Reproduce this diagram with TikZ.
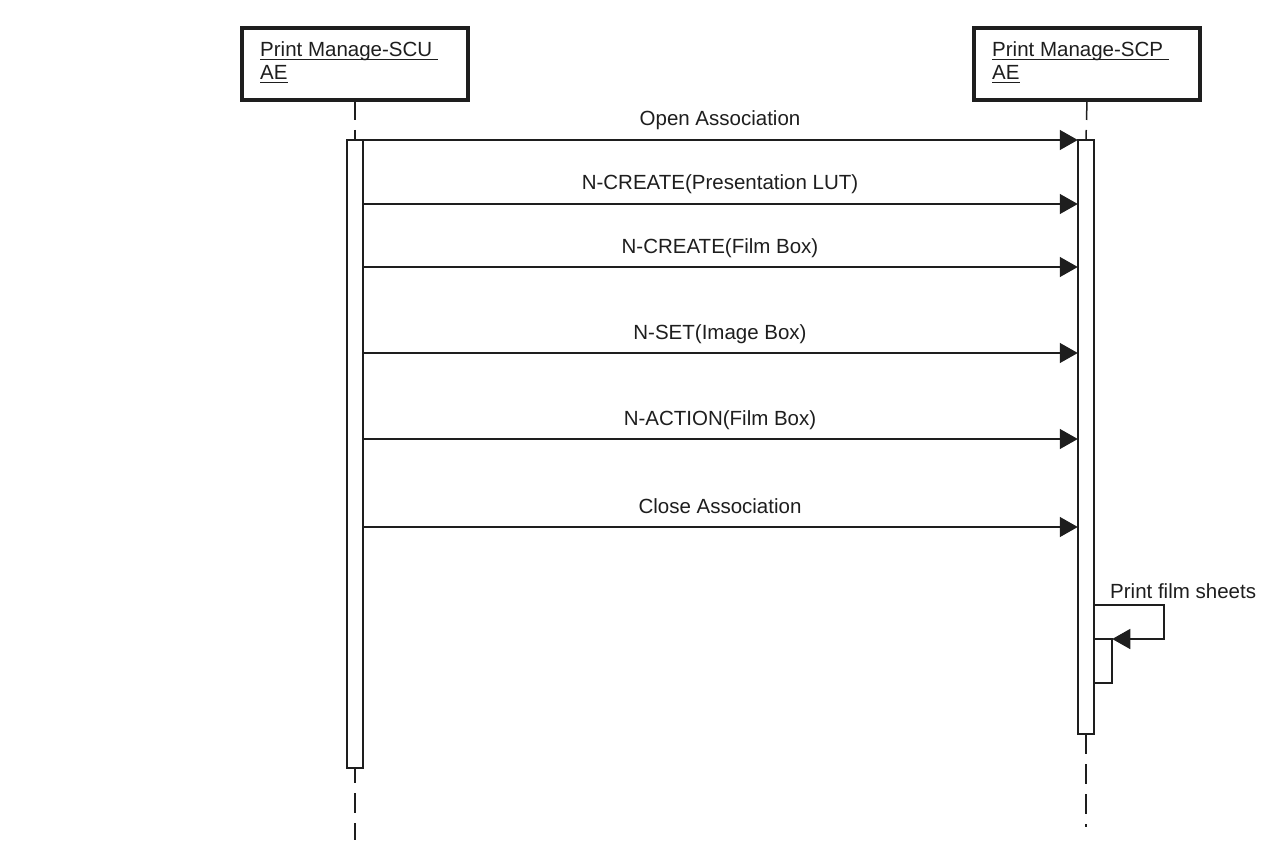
\documentclass[tikz,border=0pt]{standalone}
\usepackage{fontspec}
\setmainfont{Liberation Sans}
\usetikzlibrary{arrows.meta}
\definecolor{ink}{HTML}{1E1E1E}
\newcommand\myul[1]{\setbox0\hbox{#1}\rlap{\rule[-3.5pt]{\wd0}{1.2pt}}\box0}
\begin{document}
\begin{tikzpicture}[x=1pt,y=-1pt,
  every node/.style={text=ink},
  font=\fontsize{20.5}{24}\selectfont,
  actor/.style={draw=ink, line width=3.4pt, minimum width=226pt, minimum height=72pt, anchor=north west, inner sep=0, outer sep=0},
  actortext/.style={anchor=base west, inner sep=0},
  bar/.style={draw=ink, line width=1.6pt, fill=white, minimum width=16.5pt, anchor=north, inner sep=0, outer sep=0},
  msg/.style={draw=ink, line width=1.5pt, -{Triangle[length=18pt,width=20pt]}},
  lbl/.style={anchor=base, inner sep=0},
  lifeline/.style={draw=ink, line width=1.5pt, dash pattern=on 20pt off 10pt},
  ]
\useasboundingbox (0,0) rectangle (1282,845);
\fill[white] (0,0) rectangle (1282,845);

% actors
\node[actor] (scu) at (242,28) {};
\node[actortext] (scut1) at (260,57) {\myul{Print Manage-SCU\ }};
\node[actortext] (scut2) at (260,80) {\myul{AE}};
\node[actor] (scp) at (974,28) {};
\node[actortext] (scpt1) at (992,57) {\myul{Print Manage-SCP\ }};
\node[actortext] (scpt2) at (992,80) {\myul{AE}};

% lifeline ends
\coordinate (scuend) at (355,840);
\coordinate (scpend) at (1086,827);

% activation bars
\node[bar, minimum height=628pt] (scubar) at (355,140) {};
\node[bar, minimum height=594pt] (scpbar) at (1086,140) {};

% lifelines
\draw[lifeline] (scu.south) -- (scubar.north);
\draw[lifeline] (scp.south) -- (scpbar.north);
\draw[lifeline, dash phase=5pt] (scubar.south) -- (scuend);
\draw[lifeline] (scpbar.south) -- (scpend);

% bars on top of lifelines
\node[bar, minimum height=628pt] at (355,140) {};
\node[bar, minimum height=594pt] at (1086,140) {};

% messages
\coordinate (m1) at (0,140);
\coordinate (m2) at (0,204);
\coordinate (m3) at (0,267);
\coordinate (m4) at (0,353);
\coordinate (m5) at (0,439);
\coordinate (m6) at (0,527);
\draw[msg] (scubar.east |- m1) -- (scpbar.west |- m1);
\draw[msg] (scubar.east |- m2) -- (scpbar.west |- m2);
\draw[msg] (scubar.east |- m3) -- (scpbar.west |- m3);
\draw[msg] (scubar.east |- m4) -- (scpbar.west |- m4);
\draw[msg] (scubar.east |- m5) -- (scpbar.west |- m5);
\draw[msg] (scubar.east |- m6) -- (scpbar.west |- m6);

\node[lbl] (l1) at (720,126) {Open Association};
\node[lbl] (l2) at (720,190) {N-CREATE(Presentation LUT)};
\node[lbl] (l3) at (720,253) {N-CREATE(Film Box)};
\node[lbl] (l4) at (720,339) {N-SET(Image Box)};
\node[lbl] (l5) at (720,425) {N-ACTION(Film Box)};
\node[lbl] (l6) at (720,513) {Close Association};

% self message
\node[draw=ink, line width=1.6pt, fill=white, minimum width=18pt, minimum height=44pt, anchor=north west, inner sep=0, outer sep=0] (selfbar) at (scpbar.east |- 0,639) {};
\coordinate (s1) at (1164,605);
\coordinate (s2) at (1164,639);
\draw[msg] (scpbar.east |- s1) -- (s1) -- (s2) -- (selfbar.north east);
\node[anchor=base west, inner sep=0] (l7) at (1110,598) {Print film sheets};
\end{tikzpicture}
\end{document}
